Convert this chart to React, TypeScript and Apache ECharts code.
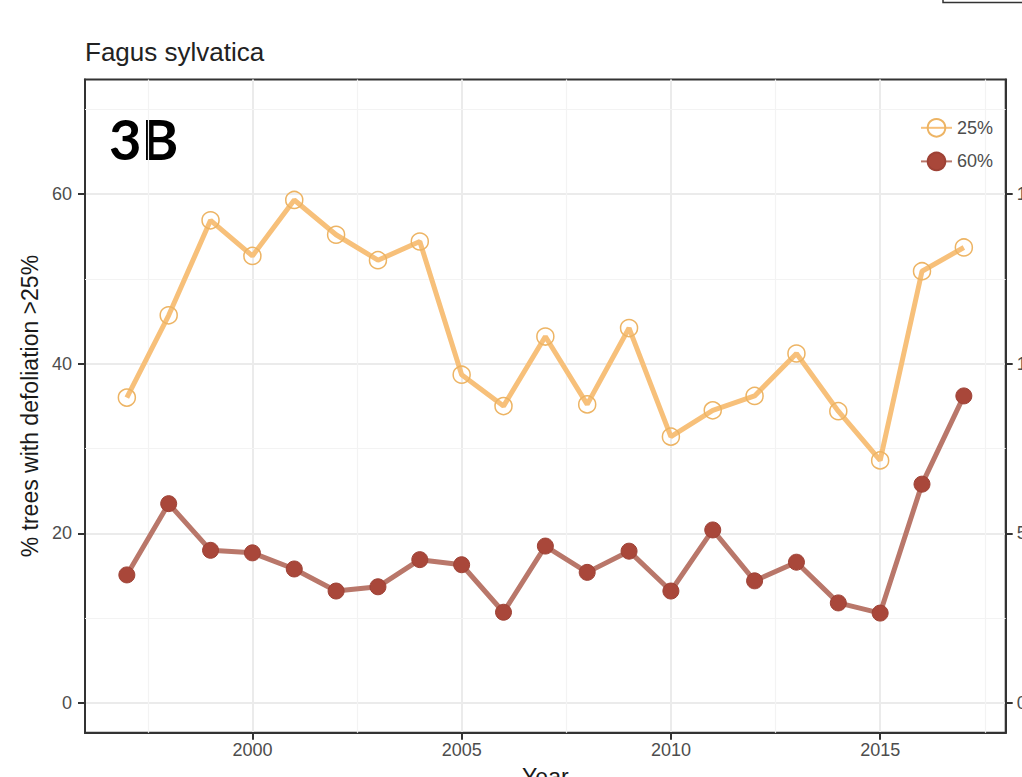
import React, { useEffect, useRef } from "react";
import * as echarts from "echarts";

const years = [1997, 1998, 1999, 2000, 2001, 2002, 2003, 2004, 2005, 2006, 2007, 2008, 2009, 2010, 2011, 2012, 2013, 2014, 2015, 2016, 2017];
const defol25 = [36.0, 45.7, 56.9, 52.7, 59.3, 55.2, 52.2, 54.4, 38.7, 35.0, 43.2, 35.2, 44.2, 31.4, 34.5, 36.2, 41.2, 34.4, 28.6, 50.9, 53.7];
const defol60 = [15.1, 23.5, 18.0, 17.7, 15.8, 13.2, 13.7, 16.9, 16.3, 10.7, 18.5, 15.4, 17.9, 13.2, 20.4, 14.4, 16.6, 11.8, 10.6, 25.8, 36.2];
const seriesNames = ["25%", "60%"];
const xTicks = [2000, 2005, 2010, 2015];
const xMinor = [1997.5, 2002.5, 2007.5, 2012.5, 2017.5];
const yTicks = [0, 20, 40, 60];
const yMinor = [10, 30, 50, 70];
const yRightTicks = [0, 5, 10, 15];

const FONT = "'Liberation Sans', Arial, Helvetica, sans-serif";

export default function App() {
  const ref = useRef<HTMLDivElement>(null);
  useEffect(() => {
    if (!ref.current) return;
    const chart = echarts.init(ref.current, undefined, { renderer: "svg" });
    const pts = (vals: number[]) => years.map((y, i) => [y, vals[i]]);
    const axisLine = { show: true, onZero: false, lineStyle: { color: "#333", width: 2 } };
    chart.setOption({
      animation: false,
      backgroundColor: "#ffffff",
      textStyle: { fontFamily: FONT },
      title: {
        text: "Fagus sylvatica",
        left: 80,
        top: 34,
        textStyle: { fontFamily: FONT, fontSize: 26, fontWeight: "normal", color: "#222" },
      },
      legend: {
        data: seriesNames,
        orient: "vertical",
        left: 915,
        top: 113,
        itemWidth: 31,
        itemHeight: 22,
        itemGap: 14,
        textStyle: { fontFamily: FONT, fontSize: 18, color: "#4d4d4d" },
      },
      grid: {
        left: 85,
        top: 79.5,
        right: 16.3,
        bottom: 44.3,
        outerBoundsMode: "none",
        containLabel: false,
        show: true,
        borderColor: "#333",
        borderWidth: 2,
        backgroundColor: "transparent",
      },
      xAxis: {
        type: "value",
        min: 1996,
        max: 2018,
        name: "Year",
        nameLocation: "middle",
        nameGap: 33,
        nameTextStyle: { fontFamily: FONT, fontSize: 23, color: "#1a1a1a" },
        axisLine,
        axisTick: { show: true, length: 7, customValues: xTicks, lineStyle: { color: "#333", width: 2 } },
        axisLabel: {
          customValues: xTicks,
          margin: 8,
          fontSize: 18,
          color: "#4d4d4d",
          fontFamily: FONT,
          formatter: (v: number) => String(v),
        },
        splitLine: { show: true, lineStyle: { color: "#EBEBEB", width: 2 } },
      },
      yAxis: [
        {
          type: "value",
          min: -3.5,
          max: 73.5,
          name: "% trees with defoliation >25%",
          nameLocation: "middle",
          nameRotate: 90,
          nameGap: 42,
          nameTextStyle: { fontFamily: FONT, fontSize: 23, color: "#1a1a1a" },
          axisLine,
          axisTick: { show: true, length: 7, customValues: yTicks, lineStyle: { color: "#333", width: 2 } },
          axisLabel: { customValues: yTicks, margin: 13, fontSize: 18, color: "#4d4d4d", fontFamily: FONT },
          splitLine: { show: true, lineStyle: { color: "#EBEBEB", width: 2 } },
        },
        {
          type: "value",
          position: "right",
          min: -0.875,
          max: 18.375,
          axisLine,
          axisTick: { show: true, length: 7, customValues: yRightTicks, lineStyle: { color: "#333", width: 2 } },
          axisLabel: { customValues: yRightTicks, margin: 11, fontSize: 18, color: "#4d4d4d", fontFamily: FONT },
          splitLine: { show: false },
        },
      ],
      series: [
        {
          name: seriesNames[0],
          type: "line",
          data: pts(defol25),
          z: 3,
          symbol: "circle",
          symbolSize: 17,
          lineStyle: { color: "#F7C07A", width: 5 },
          itemStyle: { color: "rgba(255,255,255,0)", borderColor: "#EDB464", borderWidth: 1.5 },
          markLine: {
            silent: true,
            z: 1,
            symbol: ["none", "none"],
            label: { show: false },
            lineStyle: { color: "#F3F3F3", width: 1.2, type: "solid" },
            data: [...xMinor.map((v) => ({ xAxis: v })), ...yMinor.map((v) => ({ yAxis: v }))],
          },
        },
        {
          name: seriesNames[1],
          type: "line",
          data: pts(defol60),
          z: 3,
          symbol: "circle",
          symbolSize: 16,
          lineStyle: { color: "#B9776A", width: 5 },
          itemStyle: { color: "#A9473A", borderColor: "#9E4236", borderWidth: 1 },
        },
      ],
      graphic: [
        {
          type: "text",
          left: 109,
          top: 110,
          style: { text: "3B", fontFamily: "Lato, 'Open Sans', sans-serif", fontSize: 56, fontWeight: "bold", fill: "#000" },
        },
        {
          type: "rect",
          shape: { x: 943, y: -20, width: 120, height: 22.5 },
          style: { fill: "none", stroke: "#333", lineWidth: 1.5 },
        },
      ],
    });
    return () => chart.dispose();
  }, []);
  return <div ref={ref} style={{ position: "absolute", left: 0, top: 0, width: 1022, height: 777 }} />;
}
